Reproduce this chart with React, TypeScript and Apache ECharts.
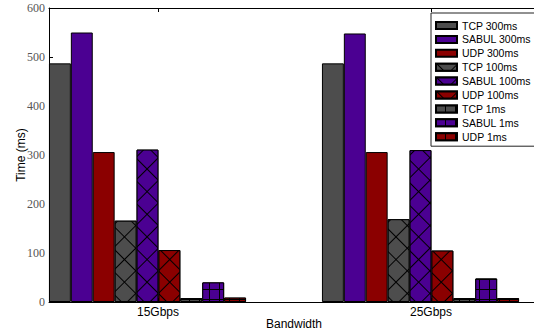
import React, { useEffect, useRef } from 'react';
import * as echarts from 'echarts';

const categories = ['15Gbps', '25Gbps'];
const seriesNames = [
  'TCP 300ms', 'SABUL 300ms', 'UDP 300ms',
  'TCP 100ms', 'SABUL 100ms', 'UDP 100ms',
  'TCP 1ms', 'SABUL 1ms', 'UDP 1ms',
];
const tcp300 = [487, 487];
const sabul300 = [550, 548];
const udp300 = [306, 306];
const tcp100 = [166, 169];
const sabul100 = [311, 310];
const udp100 = [106, 105];
const tcp1 = [8, 8];
const sabul1 = [40, 48];
const udp1 = [9, 8];
const seriesValues = [tcp300, sabul300, udp300, tcp100, sabul100, udp100, tcp1, sabul1, udp1];
const yTicks = [0, 100, 200, 300, 400, 500, 600];

const protoColors = ['#4d4d4d', '#4b0092', '#8b0000'];

// layout (x axis measured in pixels from plot left)
const plotWidth = 490;
const firstGroupCenter = 98.5;
const groupSpacing = 273;
const tickOffset = 10.5;
const barWidth = 21.9;

const groupCenters = categories.map((_, i) => firstGroupCenter + i * groupSpacing);
const tickPositions = groupCenters.map((c) => c + tickOffset);

function makeDecal(kind: number, color: string): any {
  if (kind === 1) {
    return {
      symbol: 'rect',
      symbolSize: 1,
      color,
      backgroundColor: null,
      dashArrayX: [14.5, 1],
      dashArrayY: [14.5, 1],
      rotation: Math.PI / 4,
    };
  }
  if (kind === 2) {
    return {
      symbol: 'rect',
      symbolSize: 1,
      color,
      backgroundColor: null,
      dashArrayX: [9, 1],
      dashArrayY: [9, 1],
      rotation: 0,
    };
  }
  return undefined;
}

export default function App() {
  const ref = useRef<HTMLDivElement>(null);
  useEffect(() => {
    document.body.style.margin = '0';
    const chart = echarts.init(ref.current!, undefined, { renderer: 'svg' });
    const series = seriesNames.map((name, i) => {
      const proto = i % 3;
      const kind = Math.floor(i / 3);
      const color = protoColors[proto];
      const decal = makeDecal(kind, color);
      return {
        type: 'bar',
        name,
        xAxisIndex: 0,
        yAxisIndex: 0,
        barWidth,
        barGap: '0%',
        data: groupCenters.map((x, j) => [x, seriesValues[i][j]]),
        itemStyle: {
          color: kind === 0 ? color : '#000',
          borderColor: '#000',
          borderWidth: 1,
          decal: decal,
        },
      };
    });
    const sans = 'Liberation Sans';
    chart.setOption({
      animation: false,
      backgroundColor: '#fff',
      grid: { left: 49, right: -5, top: 8, bottom: 33, containLabel: false, outerBoundsMode: 'none' },
      legend: {
        data: seriesNames,
        orient: 'vertical',
        left: 431,
        top: 13,
        itemWidth: 21,
        itemHeight: 7,
        itemGap: 2.9,
        itemTextGap: 8,
        padding: [7, 12, 4, 4],
        icon: 'rect',
        borderColor: '#222',
        borderWidth: 1,
        backgroundColor: '#fff',
        selectedMode: false,
        textStyle: { fontSize: 10.5, fontFamily: sans, color: '#000' },
        z: 10,
      },
      xAxis: [
        {
          type: 'value',
          position: 'bottom',
          min: 0,
          max: plotWidth,
          splitLine: { show: false },
          axisLine: { show: true, lineStyle: { color: '#000', width: 1 } },
          axisTick: { show: true, inside: true, length: 4, customValues: tickPositions, lineStyle: { color: '#000' } },
          axisLabel: {
            customValues: tickPositions,
            formatter: (v: number) => {
              const idx = tickPositions.findIndex((t) => Math.abs(t - v) < 0.01);
              return idx >= 0 ? categories[idx] : '';
            },
            fontSize: 12,
            fontFamily: sans,
            color: '#000',
            margin: 4,
          },
          name: 'Bandwidth',
          nameLocation: 'middle',
          nameGap: 16,
          nameMoveOverlap: false,
          nameTextStyle: { fontSize: 12, fontFamily: sans, color: '#000' },
        },
        {
          type: 'value',
          position: 'top',
          min: 0,
          max: plotWidth,
          splitLine: { show: false },
          axisLine: { show: true, lineStyle: { color: '#000', width: 1 } },
          axisTick: { show: true, inside: true, length: 4, customValues: tickPositions, lineStyle: { color: '#000' } },
          axisLabel: { show: false },
        },
      ],
      yAxis: [
        {
          type: 'value',
          min: yTicks[0],
          max: yTicks[yTicks.length - 1],
          interval: 100,
          splitLine: { show: false },
          axisLine: { show: true, lineStyle: { color: '#000', width: 1 } },
          axisTick: { show: true, inside: true, length: 4, lineStyle: { color: '#000' } },
          axisLabel: { fontSize: 12, fontFamily: 'Liberation Serif', color: '#555', margin: 4 },
          name: 'Time (ms)',
          nameLocation: 'middle',
          nameGap: 22,
          nameMoveOverlap: false,
          nameTextStyle: { fontSize: 12, fontFamily: sans, color: '#000' },
        },
      ],
      series,
    });
    return () => chart.dispose();
  }, []);
  return <div ref={ref} style={{ position: 'fixed', left: 0, top: 0, width: 534, height: 335 }} />;
}
